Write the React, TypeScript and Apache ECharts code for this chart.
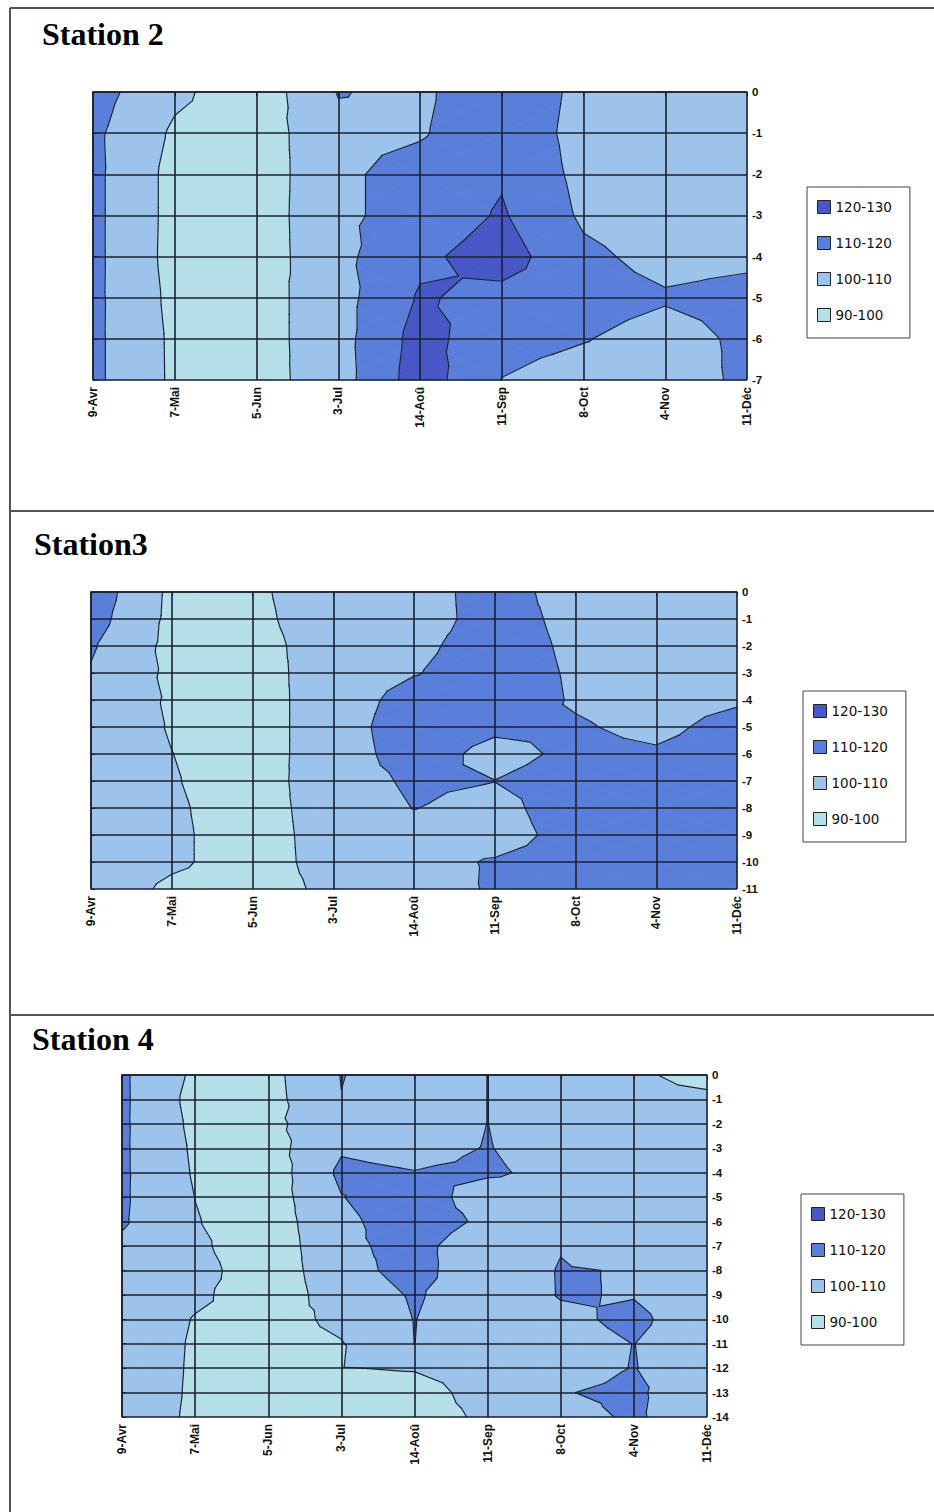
import React, { useEffect, useRef } from "react";
import * as echarts from "echarts";

// ---------- DATA ----------
const dates = ["9-Avr", "7-Mai", "5-Jun", "3-Jul", "14-Aoû", "11-Sep", "8-Oct", "4-Nov", "11-Déc"];
const bandNames = ["120-130", "110-120", "100-110", "90-100"];
const bandLow = [120, 110, 100, 90];
const bandHigh = [130, 120, 110, 100];
const contourLevels = [100, 110, 120];
const stationTitles = ["Station 2", "Station3", "Station 4"];

// rows = depth 0, -1, -2 ... ; columns = dates
const station2Values = [
  [114, 102, 94, 110.4, 108, 118, 107.2, 105, 105],
  [112, 98.5, 94.9, 107.7, 109, 117.3, 106.4, 105, 105],
  [112.3, 96.9, 94.4, 108, 114, 119, 107.2, 105, 105],
  [112.3, 96.9, 94.7, 108, 114, 121, 108.5, 105, 105],
  [112.3, 96.7, 94.7, 107.5, 118, 124.5, 112, 107, 108],
  [112.2, 97.5, 95.8, 106.3, 121, 117, 114, 111, 113],
  [112.1, 98.2, 95.8, 106.3, 123.8, 113, 110.5, 106, 112],
  [112.1, 98.3, 95.9, 105.8, 125, 109.8, 106, 105, 112],
];

const station3Values = [
  [115.9, 98, 98.5, 104.75, 106, 113.8, 106.2, 106, 106],
  [114.1, 97.7, 98, 104.5, 106, 113.5, 107.7, 106, 106],
  [111, 97.3, 97, 104.1, 108, 114, 108.4, 106, 106],
  [109.3, 98.1, 96.5, 104.3, 109.5, 114.5, 108.9, 106, 106],
  [107, 98.9, 96, 104.7, 113.8, 115, 109.2, 107, 109],
  [106, 99.4, 96, 104.7, 116, 111.8, 110.8, 108, 112.8],
  [106, 100.1, 96, 104.7, 114.7, 107, 112, 111, 114],
  [106, 100.6, 95.6, 105.4, 111.5, 110.1, 114, 113, 114],
  [106, 101.2, 96, 104.3, 110.2, 107, 115, 114, 114],
  [106, 101.5, 96.1, 103.6, 107, 106, 113.5, 114, 114],
  [106, 101.5, 96.1, 103.3, 107, 110.8, 114, 114, 114],
  [106, 98.2, 96, 102, 106, 110.9, 114, 114, 114],
];

const station4Values = [
  [111.5, 98.2, 97, 110.3, 105, 110.05, 105, 103, 93.9],
  [111.6, 96.9, 96.6, 109.8, 105, 110.05, 105, 105, 104.1],
  [111.5, 97.8, 97.8, 106, 105.5, 110.05, 105, 105, 105],
  [111.4, 98.6, 96.1, 109, 107, 110.4, 105.5, 105, 105],
  [111.4, 99.1, 94.4, 111.9, 110.3, 111.5, 107, 105, 105],
  [111.3, 99.9, 95, 109.7, 115.7, 104.5, 106, 105, 105],
  [111, 100.5, 94.7, 108, 114.9, 108.2, 106, 105, 105],
  [108.5, 101.9, 93.7, 108, 113, 103.6, 109.5, 105, 105],
  [107, 103.5, 94.1, 106.4, 113.5, 102.6, 110.6, 109.5, 105],
  [107, 101.7, 95, 104.1, 111, 104.3, 110.5, 109.6, 105],
  [107, 99.5, 96.9, 101.7, 110.2, 104, 108.2, 111.8, 105],
  [107, 98.9, 97, 99.6, 110.05, 104, 107, 110.1, 105],
  [107, 98.7, 97, 99.8, 100.5, 103, 106, 110.3, 105],
  [107, 98.5, 97, 97, 97, 102.9, 109.5, 112, 101.5],
  [107, 98.1, 97, 97, 97, 101.2, 106, 111.5, 103.2],
];

const stationValues = [station2Values, station3Values, station4Values];

// ---------- STYLE / LAYOUT ----------
const bandColors = ["#4757c6", "#5a7fdb", "#9cc3eb", "#b5dfe9"];
const gridLayouts = [
  { left: 93, top: 92, width: 654, height: 288 },
  { left: 91, top: 592, width: 646, height: 297 },
  { left: 122, top: 1075, width: 585, height: 342 },
];
const legendLayouts = [
  { left: 807, top: 187 },
  { left: 803, top: 691 },
  { left: 801, top: 1194 },
];
const titleLayouts = [
  { left: 42, top: 18 },
  { left: 34, top: 528 },
  { left: 32, top: 1023 },
];

type P = { x: number; y: number; v: number };

function clip(poly: P[], level: number, keepAbove: boolean): P[] {
  const out: P[] = [];
  const n = poly.length;
  for (let i = 0; i < n; i++) {
    const a = poly[i];
    const b = poly[(i + 1) % n];
    const ina = keepAbove ? a.v >= level : a.v <= level;
    const inb = keepAbove ? b.v >= level : b.v <= level;
    if (ina) out.push(a);
    if (ina !== inb) {
      const t = (level - a.v) / (b.v - a.v);
      out.push({ x: a.x + (b.x - a.x) * t, y: a.y + (b.y - a.y) * t, v: level });
    }
  }
  return out;
}

function triangles(values: number[][]): P[][] {
  const tris: P[][] = [];
  for (let r = 0; r < values.length - 1; r++) {
    for (let c = 0; c < values[r].length - 1; c++) {
      const p00 = { x: c, y: -r, v: values[r][c] };
      const p10 = { x: c + 1, y: -r, v: values[r][c + 1] };
      const p01 = { x: c, y: -(r + 1), v: values[r + 1][c] };
      const p11 = { x: c + 1, y: -(r + 1), v: values[r + 1][c + 1] };
      const ctr = { x: c + 0.5, y: -(r + 0.5), v: (p00.v + p10.v + p01.v + p11.v) / 4 };
      tris.push([p00, p10, ctr], [p10, p11, ctr], [p11, p01, ctr], [p01, p00, ctr]);
    }
  }
  return tris;
}

function bandPolygons(values: number[][], lo: number, hi: number): P[][] {
  const res: P[][] = [];
  for (const t of triangles(values)) {
    let p = clip(t, lo, true);
    if (p.length < 3) continue;
    p = clip(p, hi, false);
    if (p.length >= 3) res.push(p);
  }
  return res;
}

function contourSegments(values: number[][], level: number): P[][] {
  const segs: P[][] = [];
  for (const t of triangles(values)) {
    const pts: P[] = [];
    for (let i = 0; i < 3; i++) {
      const a = t[i];
      const b = t[(i + 1) % 3];
      if ((a.v >= level) !== (b.v >= level)) {
        const k = (level - a.v) / (b.v - a.v);
        pts.push({ x: a.x + (b.x - a.x) * k, y: a.y + (b.y - a.y) * k, v: level });
      }
    }
    if (pts.length === 2) segs.push(pts);
  }
  return segs;
}

function buildOption() {
  const grid: any[] = [];
  const xAxis: any[] = [];
  const yAxis: any[] = [];
  const series: any[] = [];
  const legend: any[] = [];
  const title: any[] = [];

  stationValues.forEach((values, si) => {
    const rows = values.length;
    grid.push({ ...gridLayouts[si], containLabel: false });
    xAxis.push({
      gridIndex: si,
      type: "value",
      min: 0,
      max: dates.length - 1,
      interval: 1,
      z: 5,
      axisLine: { show: true, lineStyle: { color: "#1b2030", width: 1.5 } },
      axisTick: { show: true, length: 4, lineStyle: { color: "#1b2030", width: 1 } },
      axisLabel: {
        formatter: (v: number) => dates[v] ?? "",
        rotate: 90,
        margin: 7,
        color: "#111",
        fontFamily: "Liberation Sans",
        fontWeight: "bold",
        fontSize: 12,
      },
      splitLine: { show: true, lineStyle: { color: "#1b2030", width: 1.6 } },
    });
    yAxis.push({
      gridIndex: si,
      type: "value",
      position: "right",
      min: -(rows - 1),
      max: 0,
      interval: 1,
      z: 5,
      axisLine: { show: true, lineStyle: { color: "#1b2030", width: 1.5 } },
      axisTick: { show: true, length: 4, lineStyle: { color: "#1b2030", width: 1 } },
      axisLabel: {
        margin: 5,
        color: "#111",
        fontFamily: "Liberation Sans",
        fontWeight: "bold",
        fontSize: 11.5,
      },
      splitLine: { show: true, lineStyle: { color: "#1b2030", width: 1.6 } },
    });

    bandNames.forEach((name, bi) => {
      const polys = bandPolygons(values, bandLow[bi], bandHigh[bi]);
      const color = bandColors[bi];
      series.push({
        type: "custom",
        name,
        coordinateSystem: "cartesian2d",
        xAxisIndex: si,
        yAxisIndex: si,
        silent: true,
        z: 2,
        itemStyle: { color },
        data: [[0, 0]],
        renderItem: (_params: any, api: any) => ({
          type: "group",
          children: polys.map((poly) => ({
            type: "polygon",
            shape: { points: poly.map((p) => api.coord([p.x, p.y])) },
            style: { fill: color, stroke: color, lineWidth: 0.8 },
          })),
        }),
      });
    });

    const segs: P[][] = [];
    contourLevels.forEach((lv) => segs.push(...contourSegments(values, lv)));
    series.push({
      type: "custom",
      coordinateSystem: "cartesian2d",
      xAxisIndex: si,
      yAxisIndex: si,
      silent: true,
      z: 3,
      data: [[0, 0]],
      renderItem: (_params: any, api: any) => ({
        type: "group",
        children: segs.map((s) => {
          const a = api.coord([s[0].x, s[0].y]);
          const b = api.coord([s[1].x, s[1].y]);
          return {
            type: "line",
            shape: { x1: a[0], y1: a[1], x2: b[0], y2: b[1] },
            style: { stroke: "#1c2438", lineWidth: 1.2, lineCap: "round" },
          };
        }),
      }),
    });

    legend.push({
      ...legendLayouts[si],
      orient: "vertical",
      data: bandNames,
      icon: "rect",
      itemWidth: 13,
      itemHeight: 13,
      itemGap: 22,
      selectedMode: false,
      padding: [13, 18, 16, 10],
      borderColor: "#444",
      borderWidth: 1,
      backgroundColor: "#fff",
      itemStyle: { borderColor: "#222", borderWidth: 1 },
      textStyle: { fontFamily: "DejaVu Sans", fontSize: 13.5, color: "#111" },
    });

    title.push({
      text: stationTitles[si],
      ...titleLayouts[si],
      padding: 0,
      textStyle: {
        fontFamily: "Liberation Serif",
        fontWeight: "bold",
        fontSize: 32,
        color: "#000",
      },
    });
  });

  const frame = { stroke: "#555", lineWidth: 2 };
  return {
    animation: false,
    backgroundColor: "#fff",
    title,
    legend,
    grid,
    xAxis,
    yAxis,
    series,
    graphic: [
      { type: "line", shape: { x1: 10, y1: 8, x2: 934, y2: 8 }, style: frame, silent: true },
      { type: "line", shape: { x1: 10, y1: 8, x2: 10, y2: 1512 }, style: frame, silent: true },
      { type: "line", shape: { x1: 10, y1: 511, x2: 934, y2: 511 }, style: frame, silent: true },
      { type: "line", shape: { x1: 10, y1: 1015, x2: 934, y2: 1015 }, style: frame, silent: true },
    ],
  };
}

export default function App() {
  const ref = useRef<HTMLDivElement>(null);
  useEffect(() => {
    if (!ref.current) return;
    const chart = echarts.init(ref.current, null, { renderer: "svg" });
    chart.setOption(buildOption() as any);
    return () => chart.dispose();
  }, []);
  return (
    <div
      ref={ref}
      style={{ position: "absolute", left: 0, top: 0, width: 934, height: 1512, background: "#fff" }}
    />
  );
}
